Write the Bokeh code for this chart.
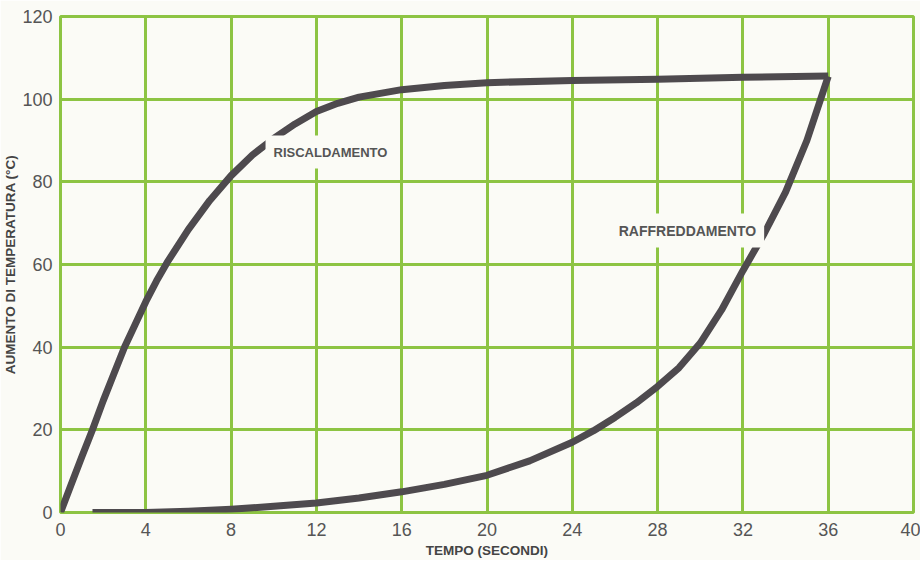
from bokeh.plotting import figure
from bokeh.models import ColumnDataSource, FixedTicker, Range1d
from bokeh.core.properties import value
from bokeh.embed import file_html
from bokeh.resources import INLINE

# ---- data ----
heat_x = [0, 0.5, 1, 1.5, 2, 2.5, 3, 3.5, 4, 4.5, 5, 6, 7, 8, 9, 10, 11, 12, 13, 14, 16, 18, 20, 24, 28, 32, 36]
heat_y = [0, 6.8, 13.5, 20, 27, 33.5, 40, 45.5, 51, 56, 60.5, 68.5, 75.5, 81.5, 86.5, 90.5, 94, 97, 99, 100.5, 102.3, 103.3, 104, 104.5, 104.8, 105.3, 105.6]

cool_x = [1.5, 4, 6, 8, 10, 12, 14, 16, 18, 20, 22, 24, 25, 26, 27, 28, 29, 30, 31, 32, 33, 34, 35, 36]
cool_y = [0, 0, 0.3, 0.8, 1.5, 2.3, 3.5, 5, 6.8, 9, 12.5, 17, 19.8, 23, 26.5, 30.5, 35, 41, 49, 58.5, 67.5, 77.5, 90, 105.5]

x_ticks = [0, 4, 8, 12, 16, 20, 24, 28, 32, 36, 40]
y_ticks = [0, 20, 40, 60, 80, 100, 120]

label_text = ["RISCALDAMENTO", "RAFFREDDAMENTO"]
label_x = [12.66, 29.4]
label_y = [87.2, 68.2]
label_size = ["13px", "14px"]

BG = "#fbfbf6"
GREEN = "#8dc443"
CURVE = "#4e4a4e"
TXT = "#555555"

p = figure(width=920, height=560, output_backend="svg", toolbar_location=None,
           x_range=Range1d(0, 40), y_range=Range1d(0, 120),
           min_border_left=60, min_border_right=7, min_border_top=16, min_border_bottom=46,
           background_fill_color=BG, border_fill_color=BG)

p.outline_line_color = GREEN
p.outline_line_width = 3

for g in (p.xgrid[0], p.ygrid[0]):
    g.grid_line_color = GREEN
    g.grid_line_width = 3
p.xgrid[0].ticker = FixedTicker(ticks=x_ticks)
p.ygrid[0].ticker = FixedTicker(ticks=y_ticks)

p.xaxis.ticker = FixedTicker(ticks=x_ticks)
p.yaxis.ticker = FixedTicker(ticks=y_ticks)

for ax in (p.xaxis[0], p.yaxis[0]):
    ax.axis_line_color = None
    ax.major_tick_line_color = None
    ax.minor_tick_line_color = None
    ax.major_label_text_font = "Liberation Sans"
    ax.major_label_text_font_size = "18px"
    ax.major_label_text_color = TXT
    ax.axis_label_text_font = "Liberation Sans"
    ax.axis_label_text_font_style = "bold"
    ax.axis_label_text_font_size = "13.5px"
    ax.axis_label_text_color = "#444444"

p.xaxis.major_label_standoff = 4
p.yaxis.major_label_standoff = 2
p.xaxis.axis_label = "TEMPO (SECONDI)"
p.yaxis.axis_label = "AUMENTO DI TEMPERATURA (°C)"
p.xaxis.axis_label_standoff = 4
p.yaxis.axis_label_standoff = 1

p.line(heat_x, heat_y, line_color=CURVE, line_width=7, line_join="round")
p.line(cool_x, cool_y, line_color=CURVE, line_width=7, line_join="round")

src = ColumnDataSource(dict(x=label_x, y=label_y, text=label_text, size=label_size))
p.text(x="x", y="y", text="text", source=src,
       text_font=value("Liberation Sans"), text_font_style="bold",
       text_font_size="size", text_color=TXT,
       text_align="center", text_baseline="middle",
       background_fill_color=BG,
       padding=dict(left=8, right=8, top=9, bottom=9))

open("out.html", "w").write(file_html(p, INLINE))
